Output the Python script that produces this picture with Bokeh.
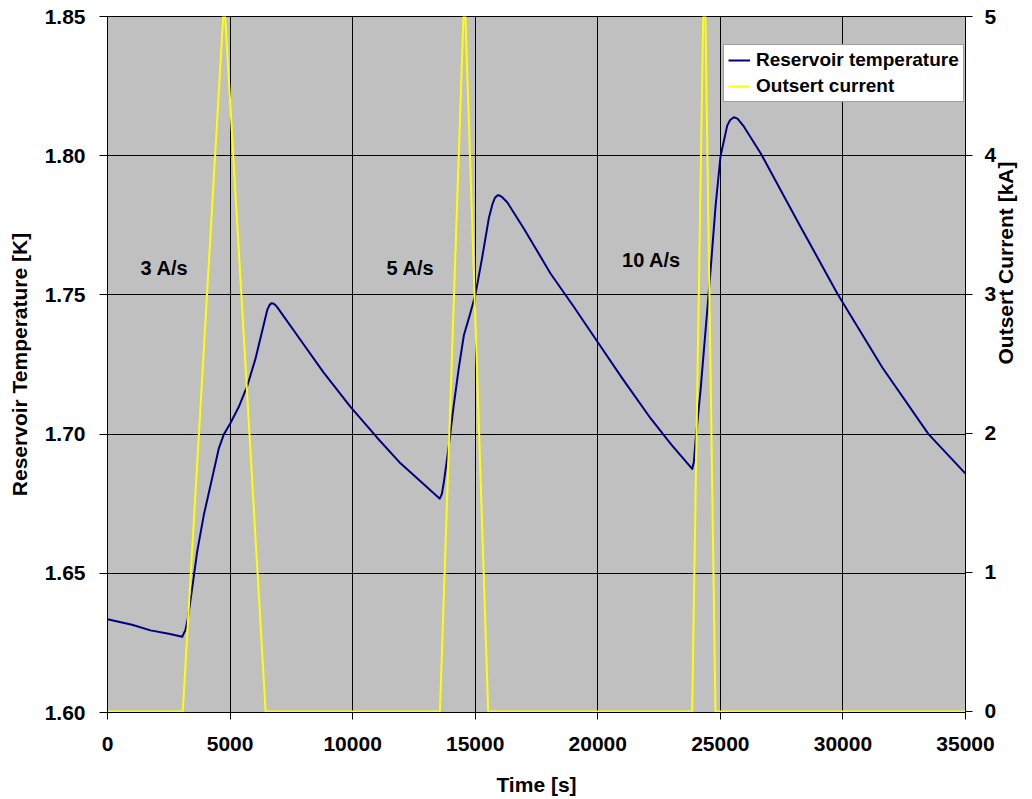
import math
from bokeh.plotting import figure
from bokeh.models import (Range1d, LinearAxis, FixedTicker, PrintfTickFormatter,
                          Legend, LegendItem, ColumnDataSource)
from bokeh.core.properties import value
from bokeh.embed import file_html
from bokeh.resources import INLINE

# ---- data ----
time_T = [0, 1000, 1754, 2500, 3047, 3182, 3277, 3454, 3658, 3930, 4270, 4542, 4746,
          5018, 5357, 5698, 6037, 6310, 6514, 6600, 6677, 6760, 6840, 6922, 7873, 8811,
          9913, 11000, 11952, 12800, 13556, 13640, 13719, 13923, 14127, 14331, 14535,
          14808, 15012, 15285, 15555, 15700, 15800, 15900, 15963, 16100, 16305, 17000,
          18071, 19000, 20000, 21000, 22150, 23000, 23851, 23920, 23986, 24190, 24394,
          24598, 24802, 25006, 25280, 25400, 25549, 25700, 25957, 26638, 27590, 28270,
          28677, 29770, 31600, 33490, 35000]
temp_K = [1.6335, 1.6315, 1.6295, 1.6283, 1.6272, 1.6297, 1.6338, 1.6446, 1.6578, 1.6710,
          1.6842, 1.6949, 1.6999, 1.7040, 1.7098, 1.7172, 1.7271, 1.7370, 1.7445, 1.7462,
          1.7470, 1.7469, 1.7464, 1.7456, 1.7338, 1.7222, 1.7098, 1.6987, 1.6895, 1.6828,
          1.6768, 1.6785, 1.6826, 1.6958, 1.7106, 1.7238, 1.7354, 1.7437, 1.7503, 1.7635,
          1.7775, 1.7825, 1.7848, 1.7857, 1.7858, 1.7851, 1.7833, 1.7736, 1.7577, 1.7460,
          1.7330, 1.7200, 1.7057, 1.6962, 1.6875, 1.6900, 1.6974, 1.7156, 1.7370, 1.7585,
          1.7816, 1.7998, 1.8108, 1.8128, 1.8138, 1.8133, 1.8105, 1.8010, 1.7855, 1.7745,
          1.7680, 1.7505, 1.7240, 1.7000, 1.6858]

time_I = [0, 3070, 4720, 4800, 6450, 13560, 14520, 14600, 15530, 23850, 24300, 24390, 24800, 35000]
current_kA = [0, 0, 5, 5, 0, 0, 5, 5, 0, 0, 5, 5, 0, 0]

rate_labels = ["3 A/s", "5 A/s", "10 A/s"]
rate_x = [2325, 12360, 22191]
rate_y = [1.7598, 1.7598, 1.7624]

x_ticks = [0, 5000, 10000, 15000, 20000, 25000, 30000, 35000]
y_ticks = [1.60, 1.65, 1.70, 1.75, 1.80, 1.85]
y2_ticks = [0, 1, 2, 3, 4, 5]

FONT = "Liberation Sans"

p = figure(width=1032, height=799, output_backend="svg", toolbar_location=None,
           x_range=Range1d(0, 35000), y_range=Range1d(1.60, 1.85))
p.min_border_left = 107
p.min_border_right = 67
p.min_border_top = 16
p.min_border_bottom = 87
p.background_fill_color = "#C0C0C0"
p.border_fill_color = "white"
p.outline_line_color = "black"
p.outline_line_width = 1

# tiny offset below 0 so the zero-current line is not hidden under the axis
p.extra_y_ranges = {"cur": Range1d(-0.008, 5)}

r_temp = p.line(time_T, temp_K, line_color="#000080", line_width=2, line_join="round")
r_cur = p.line(time_I, current_kA, line_color="#FFFF00", line_width=2, y_range_name="cur")

src = ColumnDataSource(dict(x=rate_x, y=rate_y, t=rate_labels))
p.text(x="x", y="y", text="t", source=src, text_font=value(FONT), text_font_style="bold",
       text_font_size="20px", text_align="center", text_baseline="middle", text_color="black")

# axes
xa = p.xaxis[0]
xa.ticker = FixedTicker(ticks=x_ticks)
xa.formatter = PrintfTickFormatter(format="%d")
xa.axis_label = "Time [s]"
ya = p.yaxis[0]
ya.ticker = FixedTicker(ticks=y_ticks)
ya.formatter = PrintfTickFormatter(format="%.2f")
ya.axis_label = "Reservoir Temperature [K]"

ra = LinearAxis(y_range_name="cur", axis_label="Outsert Current [kA]")
ra.ticker = FixedTicker(ticks=y2_ticks)
ra.formatter = PrintfTickFormatter(format="%d")
p.add_layout(ra, "right")

for ax in (xa, ya, ra):
    ax.major_label_text_font = FONT
    ax.major_label_text_font_style = "bold"
    ax.major_label_text_font_size = "21px"
    ax.major_label_text_color = "black"
    ax.axis_label_text_font = FONT
    ax.axis_label_text_font_style = "bold"
    ax.axis_label_text_font_size = "21px"
    ax.axis_label_text_color = "black"
    ax.axis_line_color = "black"
    ax.major_tick_line_color = "black"
    ax.minor_tick_line_color = None
    ax.major_tick_in = 0
    ax.major_tick_out = 7

ya.major_tick_out = 8
ya.major_label_standoff = 14
ya.axis_label_standoff = 11
xa.major_label_standoff = 17
xa.axis_label_standoff = 19
ra.major_label_standoff = 12
ra.axis_label_standoff = 6
try:
    ra.axis_label_orientation = math.pi / 2
except Exception:
    pass

p.xgrid.ticker = FixedTicker(ticks=x_ticks)
p.ygrid.ticker = FixedTicker(ticks=y_ticks)
for g in (p.xgrid[0], p.ygrid[0]):
    g.grid_line_color = "black"
    g.grid_line_width = 1
    g.grid_line_alpha = 1

legend = Legend(items=[LegendItem(label="Reservoir temperature", renderers=[r_temp]),
                       LegendItem(label="Outsert current", renderers=[r_cur])],
                location=(616, 610))
legend.label_text_font = FONT
legend.label_text_font_style = "bold"
legend.label_text_font_size = "19px"
legend.label_text_color = "black"
legend.padding = 4
legend.spacing = 4
legend.margin = 0
legend.label_height = 22
legend.glyph_height = 22
legend.glyph_width = 22
legend.label_standoff = 6
legend.border_line_color = "#404040"
legend.border_line_width = 1
legend.background_fill_color = "white"
legend.background_fill_alpha = 1
p.add_layout(legend, "center")

open("out.html", "w").write(file_html(p, INLINE))
